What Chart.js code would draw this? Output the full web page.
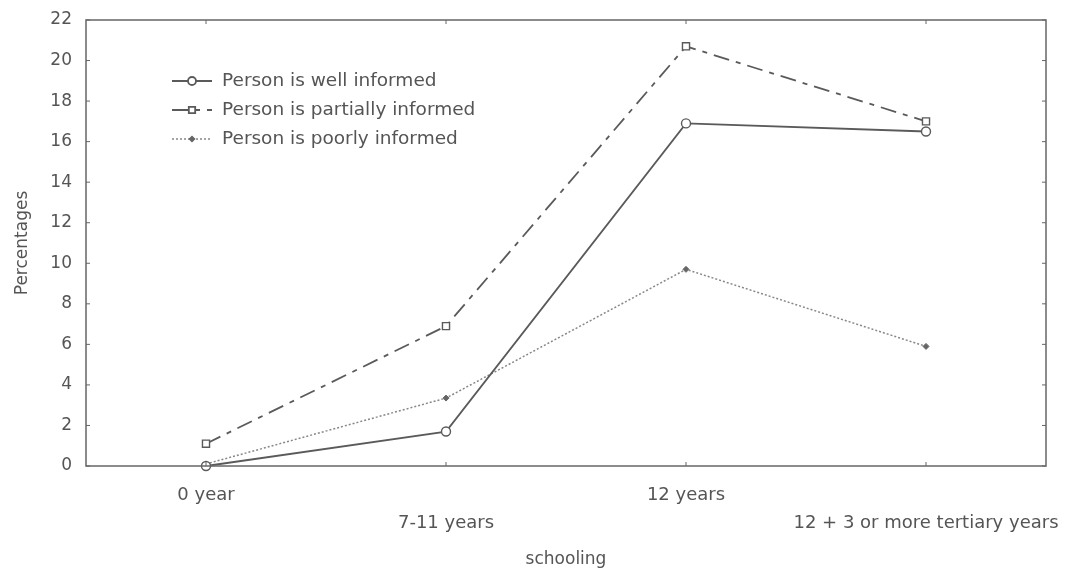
<!DOCTYPE html>
<html>
<head>
<meta charset="utf-8">
<script src="https://cdn.jsdelivr.net/npm/chart.js@4/dist/chart.umd.min.js"></script>
<style>
  html, body { margin: 0; padding: 0; background: #fff; }
  #wrap { width: 1066px; height: 570px; }
</style>
</head>
<body>
<div id="wrap"><canvas id="infoChart"></canvas></div>
<script>
// Data
const schooling = ['0 year', '7-11 years', '12 years', '12 + 3 or more tertiary years'];
const wellInformed = [0.0, 1.7, 16.9, 16.5];
const partiallyInformed = [1.1, 6.9, 20.7, 17.0];
const poorlyInformed = [0.1, 3.35, 9.7, 5.9];
const seriesLabels = ['Person is well informed', 'Person is partially informed', 'Person is poorly informed'];

const textColor = '#555';
const fontFamily = '"DejaVu Sans", sans-serif';

// frame with inward ticks on all four sides
const framePlugin = {
  id: 'frame',
  afterDraw(chart) {
    const ctx = chart.ctx;
    const a = chart.chartArea;
    const xs = chart.scales.x, ys = chart.scales.y;
    ctx.save();
    ctx.strokeStyle = '#666';
    ctx.lineWidth = 1.5;
    ctx.strokeRect(a.left, a.top, a.right - a.left, a.bottom - a.top);
    ctx.lineWidth = 1;
    ys.ticks.forEach(t => {
      const y = ys.getPixelForValue(t.value);
      ctx.beginPath();
      ctx.moveTo(a.left, y); ctx.lineTo(a.left + 4, y);
      ctx.moveTo(a.right, y); ctx.lineTo(a.right - 4, y);
      ctx.stroke();
    });
    schooling.forEach((s, i) => {
      const x = xs.getPixelForValue(i);
      ctx.beginPath();
      ctx.moveTo(x, a.bottom); ctx.lineTo(x, a.bottom - 4);
      ctx.moveTo(x, a.top); ctx.lineTo(x, a.top + 4);
      ctx.stroke();
    });
    ctx.restore();
  }
};

// legend drawn inside the plot, top left
const innerLegend = {
  id: 'innerLegend',
  afterDraw(chart) {
    const ctx = chart.ctx;
    const a = chart.chartArea;
    const x0 = a.left + 86, y0 = a.top + 61, rowH = 29;
    ctx.save();
    ctx.font = '18.5px ' + fontFamily;
    ctx.textBaseline = 'middle';
    chart.data.datasets.forEach((ds, i) => {
      const y = y0 + i * rowH;
      ctx.strokeStyle = ds.borderColor;
      ctx.lineWidth = ds.borderWidth;
      ctx.setLineDash(ds.borderDash || []);
      ctx.beginPath();
      ctx.moveTo(x0, y); ctx.lineTo(x0 + 40, y);
      ctx.stroke();
      ctx.setLineDash([]);
      ctx.fillStyle = ds.pointBackgroundColor;
      ctx.strokeStyle = ds.pointBorderColor;
      Chart.helpers.drawPoint(ctx, { pointStyle: ds.pointStyle, radius: ds.pointRadius - 0.5, borderWidth: 1.3 }, x0 + 20, y);
      ctx.fillStyle = textColor;
      ctx.fillText(ds.label, x0 + 50, y);
    });
    ctx.restore();
  }
};

new Chart(document.getElementById('infoChart'), {
  type: 'line',
  data: {
    labels: schooling,
    datasets: [{
      label: seriesLabels[0],
      data: wellInformed,
      borderColor: '#5a5a5a',
      borderWidth: 1.8,
      pointStyle: 'circle',
      pointRadius: 4.5,
      pointBackgroundColor: '#fff',
      pointBorderColor: '#5a5a5a',
      pointBorderWidth: 1.4,
      tension: 0
    }, {
      label: seriesLabels[1],
      data: partiallyInformed,
      borderColor: '#5a5a5a',
      borderWidth: 1.8,
      borderDash: [16, 7, 5, 7],
      pointStyle: 'rect',
      pointRadius: 5,
      pointBackgroundColor: '#fff',
      pointBorderColor: '#5a5a5a',
      pointBorderWidth: 1.4,
      tension: 0
    }, {
      label: seriesLabels[2],
      data: poorlyInformed,
      borderColor: '#888',
      borderWidth: 1.5,
      borderDash: [2, 2],
      pointStyle: 'rectRot',
      pointRadius: 3,
      pointBackgroundColor: '#666',
      pointBorderColor: '#666',
      pointBorderWidth: 1,
      tension: 0
    }]
  },
  options: {
    responsive: true,
    maintainAspectRatio: false,
    animation: false,
    clip: false,
    layout: { padding: { top: 20, right: 20, left: 0, bottom: 0 } },
    plugins: {
      legend: { display: false },
      tooltip: { enabled: false }
    },
    scales: {
      x: {
        offset: true,
        grid: { display: false },
        border: { display: false },
        ticks: {
          color: textColor,
          font: { family: fontFamily, size: 18, lineHeight: '28px' },
          padding: 7,
          maxRotation: 0,
          autoSkip: false,
          callback: (v, i) => i % 2 === 0 ? [schooling[i], ''] : ['', schooling[i]]
        },
        title: {
          display: true,
          text: 'schooling',
          color: textColor,
          font: { family: fontFamily, size: 17 },
          padding: { top: 0, bottom: 0 }
        },
        afterFit: s => { s.height = 104; s.paddingRight = 0; s.paddingLeft = 0; }
      },
      y: {
        min: 0,
        max: 22,
        grid: { display: false },
        border: { display: false },
        ticks: {
          stepSize: 2,
          color: textColor,
          font: { family: fontFamily, size: 17 },
          padding: 6
        },
        title: {
          display: true,
          text: 'Percentages',
          color: textColor,
          font: { family: fontFamily, size: 17 },
          padding: { top: 12, bottom: 0 }
        },
        afterFit: s => { s.width = 86; }
      }
    }
  },
  plugins: [framePlugin, innerLegend]
});
</script>
</body>
</html>
